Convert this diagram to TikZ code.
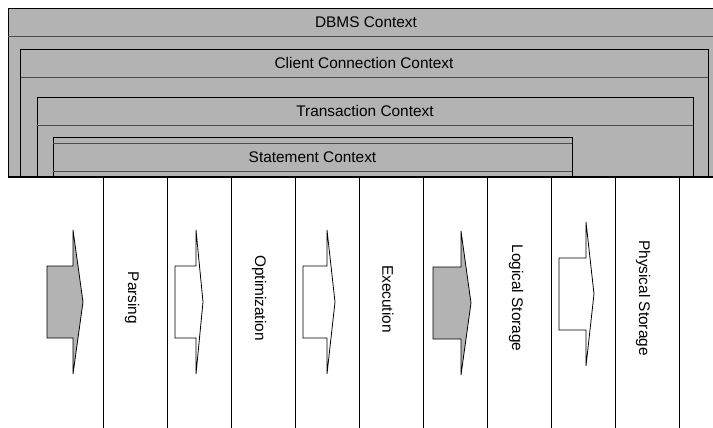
\documentclass[tikz,border=0pt]{standalone}
\usepackage{fontspec}
\setmainfont{Liberation Sans}
\usepackage{tikz}
\usetikzlibrary{positioning}

\definecolor{ctxgray}{RGB}{179,179,179}

\begin{document}
\begin{tikzpicture}[
          x=1pt, y=-1pt,
          ctx/.style={draw=black, fill=ctxgray, line width=0.9pt},
          band/.style={draw=black!70, line width=0.9pt},
          ttl/.style={font=\fontsize{15.4}{18}\selectfont, inner sep=0pt},
          stage/.style={font=\fontsize{15.4}{18}\selectfont, rotate=-90, inner sep=0pt},
          divider/.style={draw=black, line width=0.8pt},
          flow/.style={draw=black, line width=0.8pt, line join=miter}
      ]
        \useasboundingbox (0,0) rectangle (713,428);
        \clip (0,0) rectangle (713,428);
        % nested contexts
        \draw[ctx] (8,8) rectangle (724,177);
        \draw[band] (8,36) -- (724,36);
        \node[ttl] (dbms) at (366,22) {DBMS Context};
        \draw[ctx] (20.5,49) rectangle (708,177);
        \draw[band] (20.5,77) -- (708,77);
        \node[ttl] (client) at (364,63) {Client Connection Context};
        \draw[ctx] (37,97) rectangle (693,177);
        \draw[band] (37,125) -- (693,125);
        \node[ttl] (trans) at (365,111) {Transaction Context};
        \draw[ctx] (53,137) rectangle (572,177);
        \draw[band] (53,143) -- (572,143);
        \draw[band] (53,171) -- (572,171);
        \node[ttl] (stmt) at (312.5,157) {Statement Context};
        \draw[black, line width=1.8pt] (8,177) -- (713,177);
        % layers
        \foreach \k in {0,...,9}
          \draw[divider] (103+64*\k,177) -- (103+64*\k,428);
        \foreach \xa/\xb/\xc/\yt/\col in {47/73/83/230/ctxgray, 175/196/203/230/white, 303/327/335/230/white, 433/461/471/231/ctxgray, 559/586/594/222/white}
          \draw[flow, fill=\col] (\xa,\yt+36) -- (\xb,\yt+36) -- (\xb,\yt) -- (\xc,\yt+72)
            -- (\xb,\yt+144) -- (\xb,\yt+108) -- (\xa,\yt+108) -- cycle;
        \node[stage] (parsing) at (132,298) {Parsing};
        \node[stage] (optim) at (259,298) {Optimization};
        \node[stage] (exec) at (388,299) {Execution};
        \node[stage] (logstore) at (516,298) {Logical Storage};
        \node[stage] (physstore) at (643,298) {Physical Storage};
      \end{tikzpicture}
\end{document}
